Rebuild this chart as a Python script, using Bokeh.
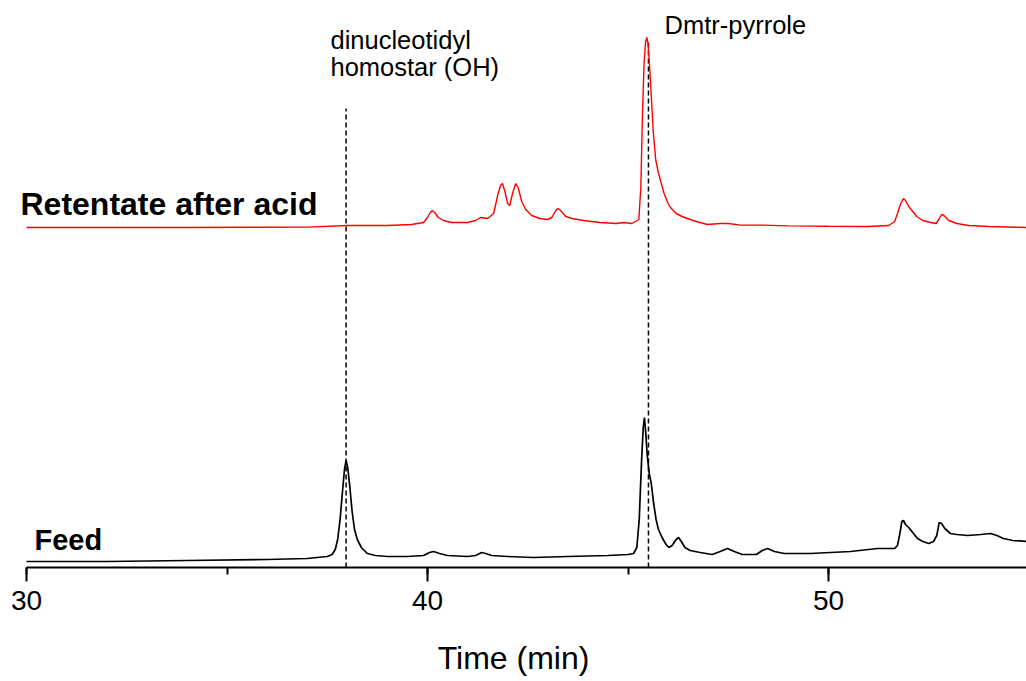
from bokeh.plotting import figure
from bokeh.models import Range1d, SingleIntervalTicker
from bokeh.core.properties import value
from bokeh.embed import file_html
from bokeh.resources import INLINE

# Retention time (min) and detector signal (a.u.)
feed_time = [30.0, 32.0, 34.0, 36.0, 37.0, 37.5, 37.62, 37.7, 37.76, 37.82, 37.88, 37.93,
             37.97, 38.01, 38.06, 38.12, 38.18, 38.25, 38.35, 38.5, 38.7, 39.0, 39.5,
             39.9, 40.05, 40.15, 40.3, 40.5, 41.0, 41.2, 41.35, 41.45, 41.6, 42.0, 42.64,
             43.5, 44.5, 45.0, 45.14, 45.22, 45.28, 45.34, 45.38, 45.41, 45.44, 45.48,
             45.53, 45.58, 45.64, 45.7, 45.76, 45.85, 45.95, 46.02, 46.1, 46.2, 46.26,
             46.33, 46.42, 46.55, 46.8, 47.1, 47.3, 47.48, 47.65, 47.85, 48.2, 48.35,
             48.48, 48.65, 48.9, 49.55, 50.55, 51.22, 51.65, 51.72, 51.78, 51.83, 51.87,
             51.92, 52.0, 52.1, 52.22, 52.35, 52.5, 52.62, 52.7, 52.76, 52.82, 52.9,
             53.04, 53.2, 53.47, 53.8, 54.04, 54.2, 54.36, 54.6, 54.94]
feed_signal = [1.5, 1.5, 1.75, 2.0, 2.25, 2.75, 3.25, 4.5, 7.0, 12.0, 19.0, 24.5,
               26.75, 25.0, 20.5, 14.0, 9.5, 7.0, 5.0, 3.5, 3.0, 2.75, 2.75,
               3.0, 3.75, 4.0, 3.5, 3.0, 2.75, 3.0, 3.75, 3.5, 3.0, 2.75, 2.5,
               2.75, 3.0, 3.25, 3.5, 5.0, 12.0, 27.0, 35.0, 37.5, 34.0, 28.0,
               23.5, 21.0, 16.0, 12.0, 9.5, 7.5, 5.75, 5.0, 5.5, 7.0, 7.5,
               6.5, 5.0, 4.25, 3.75, 3.25, 4.0, 4.75, 4.0, 3.25, 3.25, 4.25,
               4.75, 4.0, 3.5, 3.5, 4.0, 4.75, 4.75, 5.5, 8.5, 11.5, 11.75,
               10.75, 10.0, 8.75, 7.25, 6.5, 6.0, 6.5, 8.0, 11.25, 11.0, 9.75,
               8.5, 8.25, 8.0, 8.25, 8.5, 8.0, 7.25, 6.75, 6.5]

ret_time = [30.0, 34.0, 37.0, 38.0, 39.0, 39.6, 39.9, 40.0, 40.07, 40.12, 40.18, 40.27,
            40.4, 40.6, 41.0, 41.2, 41.32, 41.5, 41.65, 41.75, 41.82, 41.87, 41.93, 42.0,
            42.05, 42.12, 42.2, 42.26, 42.35, 42.45, 42.6, 42.8, 43.0, 43.1, 43.2, 43.25,
            43.32, 43.45, 43.6, 43.9, 44.3, 44.7, 44.9, 45.1, 45.27, 45.32, 45.36, 45.4,
            45.44, 45.47, 45.5, 45.54, 45.58, 45.63, 45.69, 45.75, 45.81, 45.9, 46.0,
            46.06, 46.2, 46.35, 46.48, 46.7, 46.98, 47.3, 47.5, 47.8, 48.3, 49.0, 50.0,
            51.0, 51.5, 51.65, 51.72, 51.8, 51.87, 51.92, 52.0, 52.1, 52.2, 52.35, 52.55,
            52.68, 52.75, 52.82, 52.88, 53.0, 53.2, 53.5, 54.0, 54.94]
ret_signal = [0.0, 0.0, 0.1, 0.5, 0.5, 0.75, 1.25, 2.5, 3.75, 4.25, 3.75, 2.5,
              1.75, 1.25, 1.25, 1.75, 2.5, 2.25, 3.5, 8.0, 10.5, 11.0, 9.0, 6.0,
              5.5, 8.5, 11.0, 10.0, 6.5, 4.5, 3.0, 2.25, 2.0, 2.5, 4.25, 4.75,
              4.25, 2.75, 2.25, 1.75, 1.25, 1.0, 1.25, 1.0, 2.0, 10.0, 28.0, 41.0,
              46.5, 47.5, 46.0, 40.0, 33.0, 24.0, 17.0, 14.0, 11.75, 8.5, 6.0,
              5.0, 3.5, 2.75, 2.25, 1.5, 0.75, 1.0, 1.0, 0.6, 0.6, 0.4, 0.3,
              0.25, 0.5, 1.5, 3.5, 6.0, 7.25, 6.75, 5.25, 4.0, 2.75, 1.75, 1.25,
              1.0, 2.0, 3.25, 3.0, 1.75, 1.0, 0.5, 0.25, 0.0]
ret_offset = 85.0

marker_times = [37.97, 45.51]
marker_tops = [114.75, 131.75]

tick_labels = {30: "30", 40: "40", 50: "50"}

label_x = [29.85, 30.2, 37.58, 37.58, 45.91]
label_y = [91.0, 6.9, 131.9, 125.1, 135.6]
label_text = ["Retentate after acid", "Feed", "dinucleotidyl", "homostar (OH)", "Dmtr-pyrrole"]

PX_PER_MIN = 40.1
W, H = 1026, 681
AXIS_PX = 26          # screen position of t = 30
BOTTOM = 114
x_start = 30 - AXIS_PX / PX_PER_MIN
x_end = 30 + (W - AXIS_PX) / PX_PER_MIN
y_end = (H - BOTTOM) / 4.0

p = figure(width=W, height=H, output_backend="svg", toolbar_location=None,
           x_range=Range1d(x_start, x_end), y_range=Range1d(0, y_end),
           min_border_left=0, min_border_right=0, min_border_top=0,
           min_border_bottom=BOTTOM)
p.outline_line_color = None
p.grid.visible = False
p.yaxis.visible = False
p.background_fill_color = "white"
p.border_fill_color = "white"

ax = p.xaxis[0]
ax.bounds = (30, x_end)
ax.ticker = SingleIntervalTicker(interval=10, num_minor_ticks=2)
ax.major_label_overrides = tick_labels
ax.axis_line_width = 2
ax.axis_line_color = "black"
ax.major_tick_line_width = 2
ax.minor_tick_line_width = 2
ax.major_tick_out = 14
ax.major_tick_in = 0
ax.minor_tick_out = 7
ax.minor_tick_in = 0
ax.major_label_text_font = "Liberation Sans"
ax.major_label_text_font_size = "28px"
ax.major_label_text_color = "black"
ax.major_label_text_line_height = 1.0
ax.major_label_standoff = 9
ax.axis_label = "Time (min)"
ax.axis_label_text_font = "Liberation Sans"
ax.axis_label_text_font_size = "32px"
ax.axis_label_text_font_style = "normal"
ax.axis_label_text_color = "black"
ax.axis_label_text_line_height = 1.0
ax.axis_label_standoff = 27

# dashed markers
p.segment(x0=marker_times, y0=[0, 0], x1=marker_times, y1=marker_tops,
          line_color="black", line_width=1.5, line_dash="5 3")

p.line(feed_time, feed_signal, line_color="black", line_width=1.7)
p.line(ret_time, [v + ret_offset for v in ret_signal], line_color="#ff0000", line_width=1.4)

sizes = ["32px", "29px", "25.5px", "25.5px", "25.5px"]
styles = ["bold", "bold", "normal", "normal", "normal"]
for x, y, t, s, st in zip(label_x, label_y, label_text, sizes, styles):
    p.text(x=[x], y=[y], text=[t], text_font=value("Liberation Sans"),
           text_font_size=value(s), text_font_style=st, text_color="black",
           text_baseline="alphabetic", text_align="left")

open("out.html", "w").write(file_html(p, INLINE))
